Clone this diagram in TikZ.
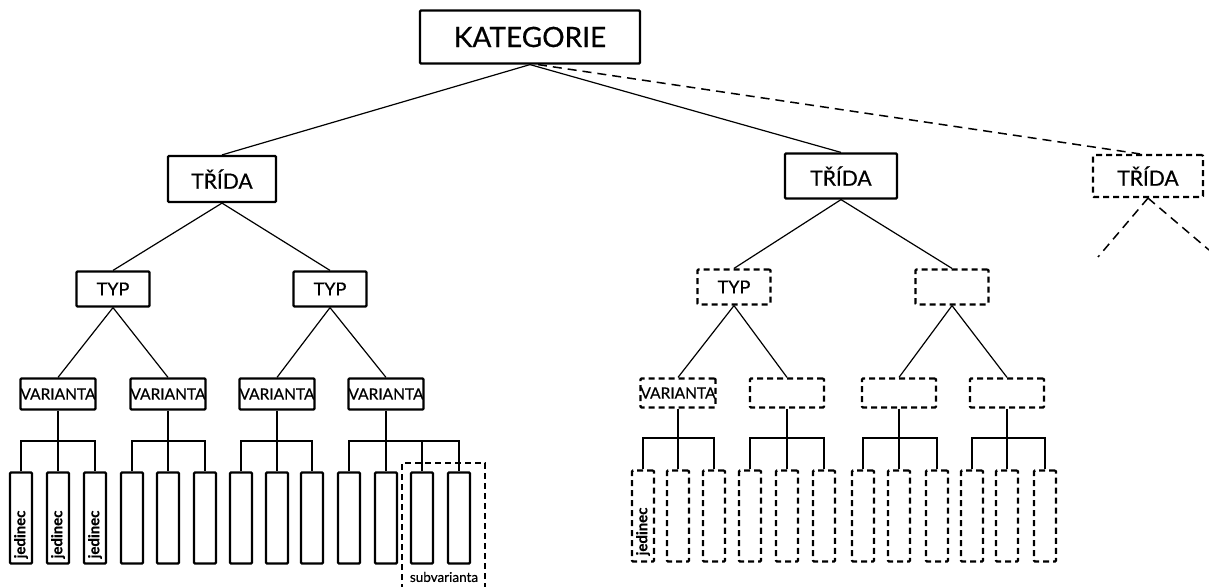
\documentclass[tikz,border=0pt]{standalone}
\usepackage{fontspec}
\setmainfont{Lato}[FakeBold=0.5]
\usepackage{tikz}
\usetikzlibrary{positioning}
\tikzstyle{box} = [draw=black, line width=2.2pt, rounded corners=1pt, inner sep=0pt, font=\fontsize{21}{24}\selectfont]
\tikzstyle{dashy} = [dash pattern=on 6pt off 4pt]
\tikzstyle{typ} = [box, minimum width=73pt, minimum height=35pt, font=\fontsize{18}{20}\selectfont]
\tikzstyle{var} = [box, minimum width=74pt, minimum height=31pt, font=\fontsize{15.5}{17}\selectfont]
\tikzstyle{leaf} = [draw=black, line width=2.2pt, rounded corners=1pt, minimum width=22pt, minimum height=91pt, inner sep=0pt]
\tikzstyle{link} = [line width=1.2pt]
\tikzstyle{dlink} = [line width=1.5pt, dash pattern=on 9pt off 6pt]
\tikzstyle{jed} = [rotate=90, anchor=west, inner sep=0pt, font=\bfseries\fontsize{15}{17}\selectfont]

\begin{document}
\begin{tikzpicture}[x=1pt,y=-1pt]
\useasboundingbox (0,0) rectangle (1209,586);
% upper levels
\node[box, minimum width=220pt, minimum height=53pt, font=\fontsize{28}{32}\selectfont] (kat) at (530,37) {KATEGORIE};
\node[box, minimum width=108pt, minimum height=46pt] (tridaA) at (222,179) {TŘÍDA};
\node[box, minimum width=112pt, minimum height=45pt] (tridaB) at (841,176) {TŘÍDA};
\node[box, dashy, minimum width=110pt, minimum height=42pt] (tridaC) at (1148,176) {TŘÍDA};
\node[typ] (typA) at (113,289) {TYP};
\node[typ] (typB) at (330,289) {TYP};
\node[typ, dashy] (typC) at (734,287) {TYP};
\node[typ, dashy] (typD) at (952,287) {};
\node[var] (varA) at (58,394) {VARIANTA};
\node[var] (varB) at (168,394) {VARIANTA};
\node[var] (varC) at (277,394) {VARIANTA};
\node[var] (varD) at (386,394) {VARIANTA};
\node[var, dashy, minimum height=29pt] (varE) at (678,393) {VARIANTA};
\node[var, dashy, minimum height=29pt] (varF) at (787,393) {};
\node[var, dashy, minimum height=29pt] (varG) at (899,393) {};
\node[var, dashy, minimum height=29pt] (varH) at (1007,393) {};
\coordinate (tc1) at (1098,257);
\coordinate (tc2) at (1209,250);
% left leaves
\node[leaf] (la1) at (21,518) {};
\node[leaf] (la2) at (58,518) {};
\node[leaf] (la3) at (95,518) {};
\node[leaf] (la4) at (132,518) {};
\node[leaf] (la5) at (168,518) {};
\node[leaf] (la6) at (205,518) {};
\node[leaf] (la7) at (241,518) {};
\node[leaf] (la8) at (277,518) {};
\node[leaf] (la9) at (312,518) {};
\node[leaf] (la10) at (349,518) {};
\node[leaf] (la11) at (386,518) {};
\node[leaf] (la12) at (422,518) {};
\node[leaf] (la13) at (459,518) {};
\node[jed] at ([yshift=6pt]la1.south) {jedinec};
\node[jed] at ([yshift=6pt]la2.south) {jedinec};
\node[jed] at ([yshift=6pt]la3.south) {jedinec};
% right leaves
\node[leaf, dashy] (lb1) at (643,516) {};
\node[leaf, dashy] (lb2) at (678,516) {};
\node[leaf, dashy] (lb3) at (714,516) {};
\node[leaf, dashy] (lb4) at (750,516) {};
\node[leaf, dashy] (lb5) at (787,516) {};
\node[leaf, dashy] (lb6) at (824,516) {};
\node[leaf, dashy] (lb7) at (863,516) {};
\node[leaf, dashy] (lb8) at (899,516) {};
\node[leaf, dashy] (lb9) at (937,516) {};
\node[leaf, dashy] (lb10) at (972,516) {};
\node[leaf, dashy] (lb11) at (1007,516) {};
\node[leaf, dashy] (lb12) at (1045,516) {};
\node[jed] at ([yshift=7pt]lb1.south) {jedinec};
% subvarianta
\draw[line width=1.8pt, dashy] (402,590) |- (485,463) -- (485,590);
\node[inner sep=0pt, font=\fontsize{13.5}{15}\selectfont] (subv) at (444,577) {subvarianta};
% connectors
\draw[link] (kat.south) -- (tridaA.north);
\draw[link] (kat.south) -- (tridaB.north);
\draw[dlink] ([xshift=8pt]kat.south) -- ([xshift=-8pt]tridaC.north);
\draw[link] (tridaA.south) -- (typA.north);
\draw[link] (tridaA.south) -- (typB.north);
\draw[link] (tridaB.south) -- (typC.north);
\draw[link] (tridaB.south) -- (typD.north);
\draw[dlink] (tridaC.south) -- (tc1);
\draw[dlink] (tridaC.south) -- (tc2);
\draw[link] (typA.south) -- (varA.north);
\draw[link] (typA.south) -- (varB.north);
\draw[link] (typB.south) -- (varC.north);
\draw[link] (typB.south) -- (varD.north);
\draw[link] (typC.south) -- (varE.north);
\draw[link] (typC.south) -- (varF.north);
\draw[link] (typD.south) -- (varG.north);
\draw[link] (typD.south) -- (varH.north);
% combs
\coordinate (cA) at (58,441);
\coordinate (cB) at (168,441);
\coordinate (cC) at (277,441);
\coordinate (cD) at (386,441);
\coordinate (cE) at (678,438);
\coordinate (cF) at (787,438);
\coordinate (cG) at (899,438);
\coordinate (cH) at (1007,438);
\draw[link] (la1.north) |- (cA) -| (la3.north);
\draw[link] (varA.south) -- (la2.north);
\draw[link] (la4.north) |- (cB) -| (la6.north);
\draw[link] (varB.south) -- (la5.north);
\draw[link] (la7.north) |- (cC) -| (la9.north);
\draw[link] (varC.south) -- (la8.north);
\draw[link] (la10.north) |- (cD) -| (la13.north);
\draw[link] (varD.south) -- (la11.north);
\draw[link] (la12.north) -- (la12.north |- cD);
\draw[link] (lb1.north) |- (cE) -| (lb3.north);
\draw[link] (varE.south) -- (lb2.north);
\draw[link] (lb4.north) |- (cF) -| (lb6.north);
\draw[link] (varF.south) -- (lb5.north);
\draw[link] (lb7.north) |- (cG) -| (lb9.north);
\draw[link] (varG.south) -- (lb8.north);
\draw[link] (lb10.north) |- (cH) -| (lb12.north);
\draw[link] (varH.south) -- (lb11.north);
\end{tikzpicture}
\end{document}
